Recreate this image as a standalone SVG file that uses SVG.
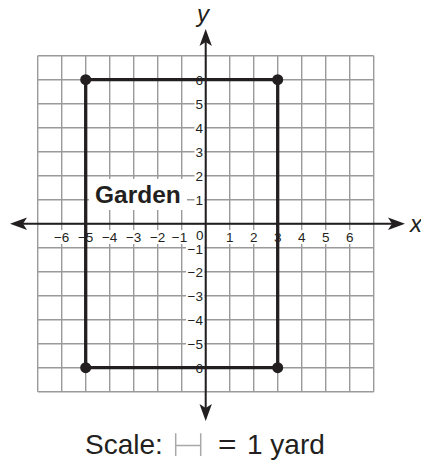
<svg xmlns="http://www.w3.org/2000/svg" width="421" height="460" viewBox="0 0 421 460">
<style>
.grid{stroke:#9a9a9a;stroke-width:1.4;fill:none}
.axis{stroke:#231f20;stroke-width:2;fill:none}
.arrow{fill:#231f20}
.rect{stroke:#231f20;stroke-width:3.3;fill:none}
.dot{fill:#231f20}
.lbl{font-family:"Liberation Sans",Arial,sans-serif;font-size:13.5px;fill:#231f20}
.bg{fill:#fff}
.it{font-family:"Liberation Sans",Arial,sans-serif;font-style:italic;font-size:24px;fill:#231f20}
.big{font-family:"Liberation Sans",Arial,sans-serif;font-size:28px;fill:#231f20}
</style>
<rect width="421" height="460" fill="#fff"/>
<g id="grid">
<path class="grid" d="M37.7 55.7V391.7M61.7 55.7V391.7M85.7 55.7V391.7M109.7 55.7V391.7M133.7 55.7V391.7M157.7 55.7V391.7M181.7 55.7V391.7M205.7 55.7V391.7M229.7 55.7V391.7M253.7 55.7V391.7M277.7 55.7V391.7M301.7 55.7V391.7M325.7 55.7V391.7M349.7 55.7V391.7M373.7 55.7V391.7
M37.7 55.7H373.7M37.7 79.7H373.7M37.7 103.7H373.7M37.7 127.7H373.7M37.7 151.7H373.7M37.7 175.7H373.7M37.7 199.7H373.7M37.7 223.7H373.7M37.7 247.7H373.7M37.7 271.7H373.7M37.7 295.7H373.7M37.7 319.7H373.7M37.7 343.7H373.7M37.7 367.7H373.7M37.7 391.7H373.7"/>
</g>
<g id="x-labels">
<g class="bg">
<rect x="53" y="230" width="17" height="14"/><rect x="77" y="230" width="17" height="14"/><rect x="101" y="230" width="17" height="14"/><rect x="125" y="230" width="17" height="14"/><rect x="149" y="230" width="17" height="14"/><rect x="171.5" y="230" width="17" height="14"/>
<rect x="194.5" y="229" width="10" height="13"/>
<rect x="225" y="230" width="10" height="14"/><rect x="249" y="230" width="10" height="14"/><rect x="273" y="230" width="10" height="14"/><rect x="297" y="230" width="10" height="14"/><rect x="321" y="230" width="10" height="14"/><rect x="345" y="230" width="10" height="14"/>
</g>
<g class="lbl" text-anchor="middle">
<text x="61.7" y="242">−6</text><text x="85.7" y="242">−5</text><text x="109.7" y="242">−4</text><text x="133.7" y="242">−3</text><text x="157.7" y="242">−2</text><text x="179.5" y="242">−1</text>
<text x="199.8" y="239.5">0</text>
<text x="229.7" y="242">1</text><text x="253.7" y="242">2</text><text x="277.7" y="242">3</text><text x="301.7" y="242">4</text><text x="325.7" y="242">5</text><text x="349.7" y="242">6</text>
</g>
</g>
<g id="y-labels">
<g class="bg">
<rect x="194.5" y="73" width="10" height="14"/><rect x="194.5" y="97" width="10" height="14"/><rect x="194.5" y="121" width="10" height="14"/><rect x="194.5" y="145" width="10" height="14"/><rect x="194.5" y="169" width="10" height="14"/><rect x="194.5" y="193" width="10" height="14"/>
<rect x="186" y="242" width="18.5" height="14"/><rect x="186" y="265" width="18.5" height="14"/><rect x="186" y="289" width="18.5" height="14"/><rect x="186" y="313" width="18.5" height="14"/><rect x="186" y="337" width="18.5" height="14"/><rect x="186" y="361" width="18.5" height="14"/>
</g>
<g class="lbl" text-anchor="end">
<text x="203" y="84.5">6</text><text x="203" y="108.5">5</text><text x="203" y="132.5">4</text><text x="203" y="156.5">3</text><text x="203" y="180.5">2</text><text x="203" y="204.5">1</text>
<text x="203" y="254">−1</text><text x="203" y="276.5">−2</text><text x="203" y="300.5">−3</text><text x="203" y="324.5">−4</text><text x="203" y="348.5">−5</text><text x="203" y="372.5">−6</text>
</g>
</g>
<g id="garden-label">
<rect class="bg" x="89" y="179" width="98" height="31"/>
<text x="95" y="203.3" font-family="'Liberation Sans',Arial,sans-serif" font-weight="bold" font-size="24.5" fill="#231f20">Garden</text>
</g>
<g id="axes">
<path class="axis" d="M14 223.7H401M205.7 33V417"/>
<path class="arrow" d="M10 223.7L27 217.5L23 223.7L27 229.9Z"/>
<path class="arrow" d="M405 223.7L388 217.5L392 223.7L388 229.9Z"/>
<path class="arrow" d="M205.7 29L199.5 46L205.7 42L211.9 46Z"/>
<path class="arrow" d="M205.7 421L199.5 404L205.7 408L211.9 404Z"/>
<text class="it" x="410" y="232">x</text>
<text class="it" x="197" y="22">y</text>
</g>
<g id="garden">
<path class="rect" d="M85.7 79.7H277.7V367.7H85.7Z"/>
<circle class="dot" cx="85.7" cy="79.7" r="5.5"/>
<circle class="dot" cx="277.7" cy="79.7" r="5.5"/>
<circle class="dot" cx="277.7" cy="367.7" r="5.5"/>
<circle class="dot" cx="85.7" cy="367.7" r="5.5"/>
</g>
<g id="scale">
<text class="big" x="85" y="454">Scale:</text>
<path d="M175.7 433.3V456M200.7 433.3V456M175.7 445.5H200.7" stroke="#a8a8a8" stroke-width="1.5" fill="none"/>
<text class="big" x="218" y="454" textLength="18.5" lengthAdjust="spacingAndGlyphs">=</text>
<text class="big" x="247" y="454">1 yard</text>
</g>
</svg>
